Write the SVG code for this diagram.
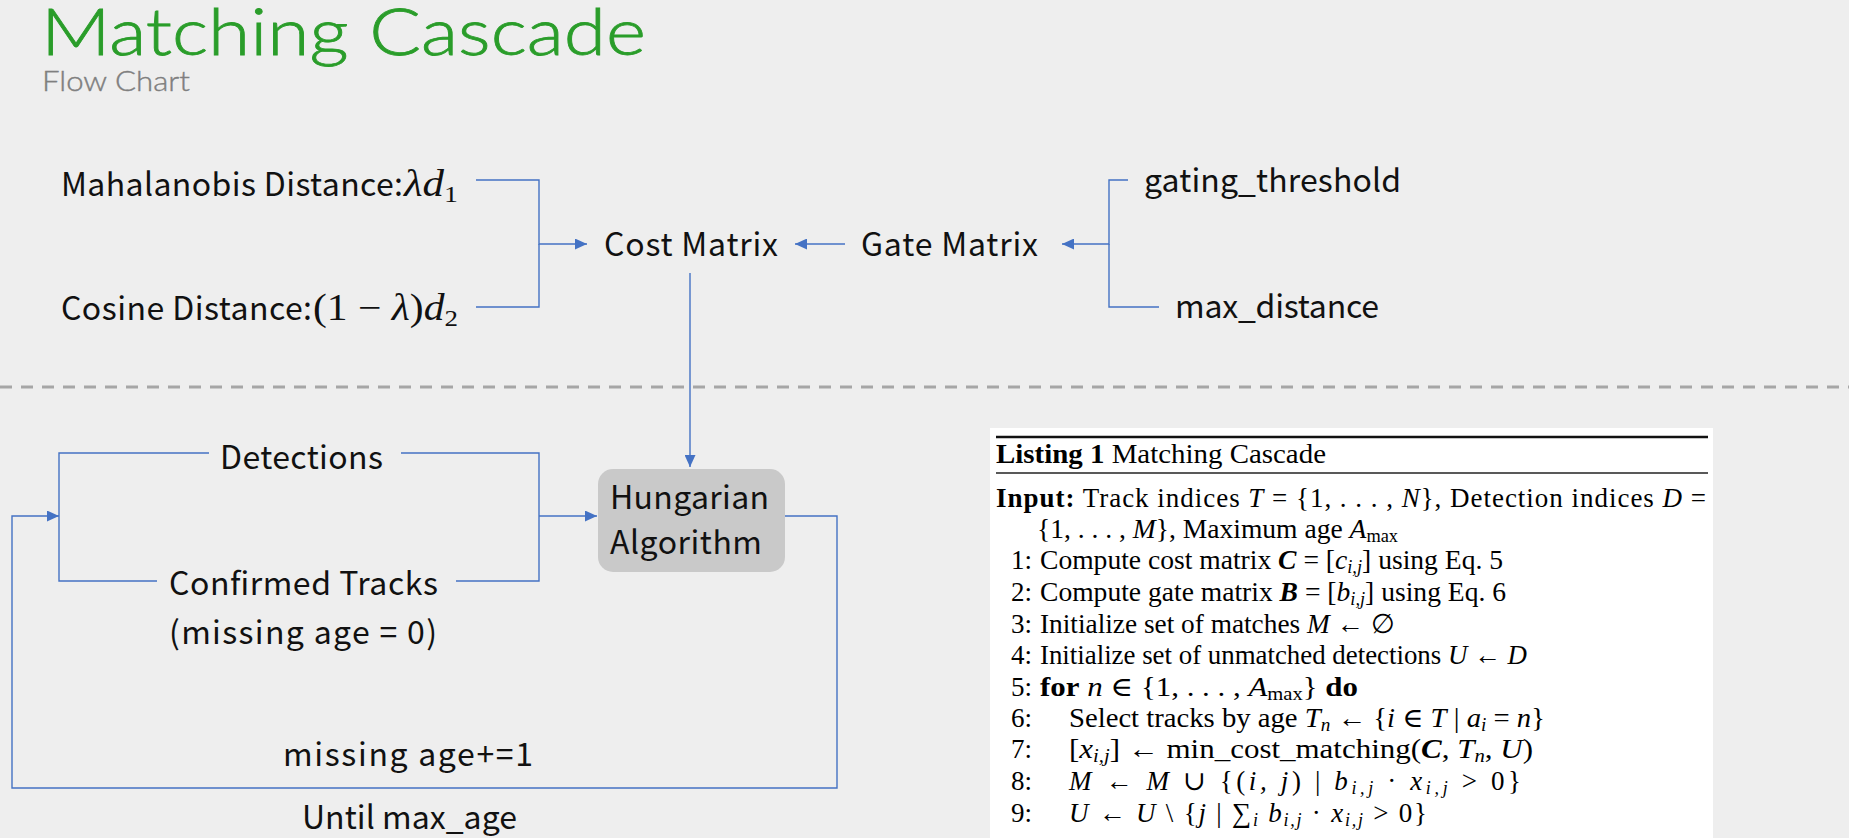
<svg xmlns="http://www.w3.org/2000/svg" width="1849" height="838" viewBox="0 0 1849 838">
<defs>
<style>
.t{font-family:"Noto Sans CJK SC","Noto Sans",sans-serif;font-size:32px;fill:#111;}
.m{font-family:"Liberation Serif","DejaVu Serif",serif;font-size:37px;fill:#111;}
.mi{font-style:italic;}
.c{fill:none;stroke:#4472c4;stroke-width:1.4;}
.l{font-family:"Liberation Serif","DejaVu Serif",serif;font-size:27px;fill:#000;}
.i{font-style:italic;}
.b{font-weight:bold;}
</style>
<marker id="ah" markerUnits="userSpaceOnUse" markerWidth="12" markerHeight="11" refX="12" refY="5.5" orient="auto">
<path d="M0,0 L12,5.5 L0,11 z" fill="#4472c4"/>
</marker>
</defs>
<rect x="0" y="0" width="1849" height="838" fill="#eeeeee"/>
<g id="title">
<text x="41" y="55" font-family="Lato,'Open Sans',sans-serif" font-weight="300" font-size="65" fill="#2a9d2a" stroke="#2a9d2a" stroke-width="0.8" textLength="605" lengthAdjust="spacingAndGlyphs">Matching Cascade</text>
<text x="42" y="91" font-family="Lato,'Open Sans',sans-serif" font-weight="300" font-size="28" fill="#7f7f7f" stroke="#7f7f7f" stroke-width="0.4" textLength="148" lengthAdjust="spacingAndGlyphs">Flow Chart</text>
</g>
<line x1="0" y1="387" x2="1849" y2="387" stroke="#a6a6a6" stroke-width="3" stroke-dasharray="12 9"/>
<g id="connectors">
<polyline class="c" points="476,180 539,180 539,244 587,244" marker-end="url(#ah)"/>
<polyline class="c" points="476,307 539,307 539,244"/>
<line class="c" x1="845" y1="244" x2="795" y2="244" marker-end="url(#ah)"/>
<polyline class="c" points="1128,180 1109,180 1109,244 1062,244" marker-end="url(#ah)"/>
<polyline class="c" points="1159,307 1109,307 1109,244"/>
<line class="c" x1="690" y1="273" x2="690" y2="467" marker-end="url(#ah)"/>
<polyline class="c" points="209,453 59,453 59,581 157,581"/>
<polyline class="c" points="401,453 539,453 539,581 456,581"/>
<line class="c" x1="539" y1="516" x2="597" y2="516" marker-end="url(#ah)"/>
<polyline class="c" points="785,516 837,516 837,788 12,788 12,516 59,516" marker-end="url(#ah)"/>
</g>
<g id="mahalanobis">
<text class="t" x="61" y="196" textLength="342">Mahalanobis Distance:</text>
<text class="m" x="404" y="196" textLength="54" lengthAdjust="spacingAndGlyphs"><tspan class="mi">λd</tspan><tspan font-size="24" baseline-shift="-6">1</tspan></text>
</g>
<g id="cosine">
<text class="t" x="61" y="320" textLength="251">Cosine Distance:</text>
<text class="m" x="313" y="320" textLength="145" lengthAdjust="spacingAndGlyphs">(1 − <tspan class="mi">λ</tspan>)<tspan class="mi">d</tspan><tspan font-size="24" baseline-shift="-6">2</tspan></text>
</g>
<g id="cost-matrix"><text class="t" x="604" y="256" textLength="174">Cost Matrix</text></g>
<g id="gate-matrix"><text class="t" x="861" y="256" textLength="177">Gate Matrix</text></g>
<g id="gating-threshold"><text class="t" x="1144" y="192" textLength="257">gating_threshold</text></g>
<g id="max-distance"><text class="t" x="1175" y="318" textLength="204">max_distance</text></g>
<g id="detections"><text class="t" x="220" y="469" textLength="163">Detections</text></g>
<g id="confirmed-tracks"><text class="t" x="169" y="595" textLength="269">Confirmed Tracks</text><text class="t" x="169" y="644" textLength="268">(missing age = 0)</text></g>
<g id="hungarian">
<rect x="598" y="469" width="187" height="103" rx="15" fill="#c9c9c9"/>
<text class="t" x="610" y="509" textLength="159">Hungarian</text>
<text class="t" x="610" y="554" textLength="152">Algorithm</text>
</g>
<g id="missing-age"><text class="t" x="283" y="766" textLength="250">missing age+=1</text></g>
<g id="until-max-age"><text class="t" x="302" y="829" textLength="215">Until max_age</text></g>
<g id="listing">
<rect x="990" y="428" width="723" height="420" fill="#ffffff"/>
<line x1="996" y1="437" x2="1708" y2="437" stroke="#111" stroke-width="2.5"/>
<line x1="996" y1="473" x2="1708" y2="473" stroke="#222" stroke-width="1.3"/>
<text class="l" x="996" y="463" textLength="330" lengthAdjust="spacingAndGlyphs"><tspan class="b">Listing 1</tspan> Matching Cascade</text>
<text class="l" x="996" y="507" textLength="710"><tspan class="b">Input:</tspan> Track indices <tspan class="i">T</tspan> = {1, . . . , <tspan class="i">N</tspan>}, Detection indices <tspan class="i">D</tspan> =</text>
<text class="l" x="1037" y="538" textLength="361" lengthAdjust="spacingAndGlyphs">{1, . . . , <tspan class="i">M</tspan>}, Maximum age <tspan class="i">A</tspan><tspan font-size="18" baseline-shift="-4">max</tspan></text>
<g text-anchor="end">
<text class="l" x="1032" y="569">1:</text>
<text class="l" x="1032" y="601">2:</text>
<text class="l" x="1032" y="633">3:</text>
<text class="l" x="1032" y="664">4:</text>
<text class="l" x="1032" y="696">5:</text>
<text class="l" x="1032" y="727">6:</text>
<text class="l" x="1032" y="758">7:</text>
<text class="l" x="1032" y="790">8:</text>
<text class="l" x="1032" y="822">9:</text>
</g>
<text class="l" x="1040" y="569" textLength="463" lengthAdjust="spacingAndGlyphs">Compute cost matrix <tspan class="b i">C</tspan> = [<tspan class="i">c</tspan><tspan class="i" font-size="18" baseline-shift="-4">i,j</tspan>] using Eq. 5</text>
<text class="l" x="1040" y="601" textLength="466" lengthAdjust="spacingAndGlyphs">Compute gate matrix <tspan class="b i">B</tspan> = [<tspan class="i">b</tspan><tspan class="i" font-size="18" baseline-shift="-4">i,j</tspan>] using Eq. 6</text>
<text class="l" x="1040" y="633" textLength="355" lengthAdjust="spacingAndGlyphs">Initialize set of matches <tspan class="i">M</tspan> ← ∅</text>
<text class="l" x="1040" y="664" textLength="487" lengthAdjust="spacingAndGlyphs">Initialize set of unmatched detections <tspan class="i">U</tspan> ← <tspan class="i">D</tspan></text>
<text class="l" x="1040" y="696" textLength="318" lengthAdjust="spacingAndGlyphs"><tspan class="b">for</tspan> <tspan class="i">n</tspan> ∈ {1, . . . , <tspan class="i">A</tspan><tspan font-size="18" baseline-shift="-4">max</tspan>} <tspan class="b">do</tspan></text>
<text class="l" x="1069" y="727" textLength="476" lengthAdjust="spacingAndGlyphs">Select tracks by age <tspan class="i">T</tspan><tspan class="i" font-size="18" baseline-shift="-4">n</tspan> ← {<tspan class="i">i</tspan> ∈ <tspan class="i">T</tspan> | <tspan class="i">a</tspan><tspan class="i" font-size="18" baseline-shift="-4">i</tspan> = <tspan class="i">n</tspan>}</text>
<text class="l" x="1069" y="758" textLength="464" lengthAdjust="spacingAndGlyphs">[<tspan class="i">x</tspan><tspan class="i" font-size="18" baseline-shift="-4">i,j</tspan>] ← min_cost_matching(<tspan class="b i">C</tspan>, <tspan class="i">T</tspan><tspan class="i" font-size="18" baseline-shift="-4">n</tspan>, <tspan class="i">U</tspan>)</text>
<text class="l" x="1069" y="790" textLength="452"><tspan class="i">M</tspan> ← <tspan class="i">M</tspan> ∪ {(<tspan class="i">i, j</tspan>) | <tspan class="i">b</tspan><tspan class="i" font-size="18" baseline-shift="-4">i,j</tspan> · <tspan class="i">x</tspan><tspan class="i" font-size="18" baseline-shift="-4">i,j</tspan> &gt; 0}</text>
<text class="l" x="1069" y="822" textLength="358"><tspan class="i">U</tspan> ← <tspan class="i">U</tspan> \ {<tspan class="i">j</tspan> | ∑<tspan class="i" font-size="18" baseline-shift="-4">i</tspan> <tspan class="i">b</tspan><tspan class="i" font-size="18" baseline-shift="-4">i,j</tspan> · <tspan class="i">x</tspan><tspan class="i" font-size="18" baseline-shift="-4">i,j</tspan> &gt; 0}</text>
</g>
</svg>
